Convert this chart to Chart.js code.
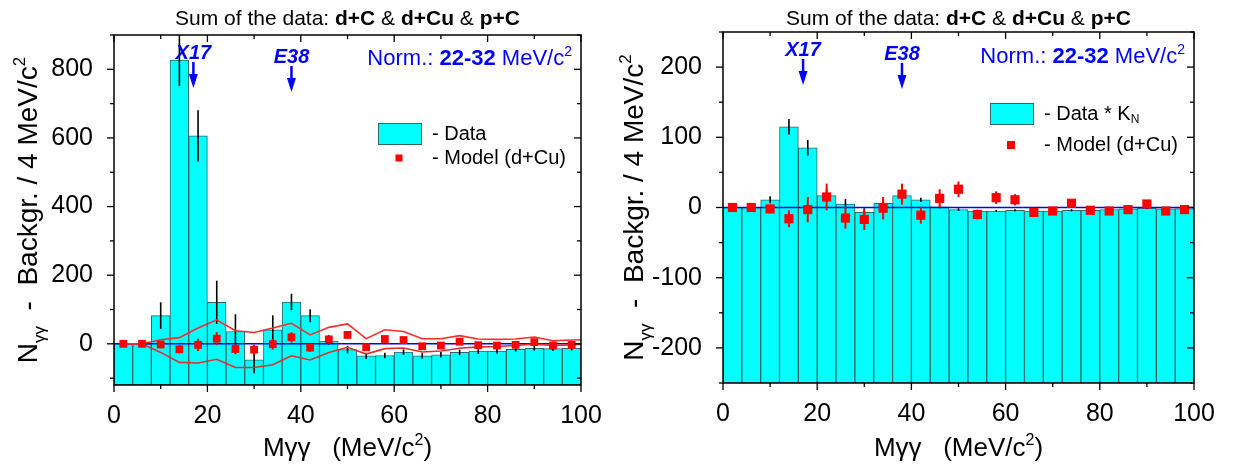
<!DOCTYPE html>
<html>
<head>
<meta charset="utf-8">
<script src="https://cdn.jsdelivr.net/npm/chart.js@4.4.0/dist/chart.umd.min.js"></script>
<style>
  html, body { margin: 0; padding: 0; background: #fff; }
  #wrap { position: relative; width: 1233px; height: 465px; }
  canvas { position: absolute; top: 0; }
  #left { left: 0; }
  #right { left: 610px; }
</style>
</head>
<body>
<div id="wrap">
  <canvas id="left" width="610" height="465"></canvas>
  <canvas id="right" width="623" height="465"></canvas>
</div>
<script>
// bin centres of the 4 MeV/c2 histogram
const binCenters = [2, 6, 10, 14, 18, 22, 26, 30, 34, 38, 42, 46, 50, 54, 58, 62, 66, 70, 74, 78, 82, 86, 90, 94, 98];

// left panel: data minus background
const dataLeft = [0, 0, 82, 827, 606, 121, 36, -47, 41, 122, 82, 8, -17, -35, -34, -24, -35, -32, -25, -21, -21, -16, -13, -14, -13];
const errLeft = [0, 0, 39, 75, 75, 63, 50, 39, 42, 24, 19, 10, 11, 9, 8, 8, 8, 8, 8, 8, 7, 7, 7, 6, 6];

// right panel: data * K_N
const dataRight = [0, 0, 11, 115, 85, 17, 5, -7, 6, 17, 11, 1, -3, -5, -5, -4, -5, -5, -4, -4, -3, -2, -1, -2, -1.5];
const errRight = [0, 0, 5, 11, 11, 9, 7, 6, 6, 4, 3, 2, 2, 1.5, 1.5, 1.5, 1.5, 1.5, 1.5, 1.5, 1.5, 1, 1, 1, 1];

// model (d+Cu), same points in both panels
const modelVals = [0, 0, -2, -16, -3, 15, -15, -17, -1, 19, -11, 13, 26, -10, 14, 11, -7, -5, 6, -4, -5, -3, 5, -5, -3];
const modelErr = [1, 1, 6, 12, 18, 19, 15, 15, 16, 15, 12, 13, 11, 7, 9, 8, 5, 5, 5, 4, 4, 4, 4, 4, 4];

// model band (left panel only)
const bandX = [2, 6, 10, 14, 18, 22, 26, 30, 34, 38, 42, 46, 50, 54, 58, 62, 66, 70, 74, 78, 82, 86, 90, 94, 98, 100];
const bandUpper = [0, 0, 12, 18, 46, 70, 38, 33, 46, 60, 26, 48, 58, 15, 41, 36, 15, 15, 24, 14, 13, 14, 20, 9, 11, 12];
const bandLower = [0, 0, -25, -54, -56, -45, -69, -69, -61, -35, -47, -25, -10, -30, -14, -12, -24, -21, -13, -9, -8, -5, -1, -5, -3, -2];

// zero line
const zeroLineX = [0, 100];
const zeroLineY = [0, 0];

// axes
const xTicks = [0, 20, 40, 60, 80, 100];
const yTicksLeft = [0, 200, 400, 600, 800];
const yTicksRight = [-200, -100, 0, 100, 200];

// marked masses
const markers = ['X17', 'E38'];
const markerMass = [17, 38];
const normRange = '22-32';

const FAM = "'Liberation Sans', Arial, sans-serif";

function xy(xs, ys) {
    return xs.map((x, i) => ({ x: x, y: ys[i] }));
}

// text made of pieces: [text, style]  B bold, I italic, v subscript, ^ superscript
function drawRich(ctx, segs, x, y, size, align, color) {
    const parts = segs.map(([t, st]) => {
        const small = st.includes('v') || st.includes('^');
        const px = small ? Math.round(size * 0.62) : size;
        const font = (st.includes('I') ? 'italic ' : '') + (st.includes('B') ? 'bold ' : '') + px + 'px ' + FAM;
        ctx.font = font;
        const dy = st.includes('v') ? size * 0.28 : (st.includes('^') ? -size * 0.42 : 0);
        return { t: t, font: font, dy: dy, w: ctx.measureText(t).width };
    });
    const total = parts.reduce((a, p) => a + p.w, 0);
    let cx = align === 'center' ? x - total / 2 : (align === 'right' ? x - total : x);
    ctx.fillStyle = color;
    ctx.textAlign = 'left';
    parts.forEach(p => {
        ctx.font = p.font;
        ctx.fillText(p.t, cx, y + p.dy);
        cx += p.w;
    });
}

function seg(ctx, x0, y0, x1, y1) {
    ctx.beginPath();
    ctx.moveTo(x0, y0);
    ctx.lineTo(x1, y1);
    ctx.stroke();
}

// vertical error bars for datasets that carry an `errors` array
const errorBars = {
    id: 'errorBars',
    afterDatasetDraw(chart, args) {
        const ds = chart.data.datasets[args.index];
        if (!ds.errors) return;
        const ctx = chart.ctx;
        const ys = chart.scales.y;
        const area = chart.chartArea;
        ctx.save();
        ctx.beginPath();
        ctx.rect(area.left, area.top, area.right - area.left, area.bottom - area.top);
        ctx.clip();
        ctx.strokeStyle = ds.errColor;
        ctx.lineWidth = ds.errWidth;
        args.meta.data.forEach((el, i) => {
            const e = ds.errors[i];
            if (!e) return;
            const v = ds.data[i].y;
            seg(ctx, el.x, ys.getPixelForValue(v + e), el.x, ys.getPixelForValue(v - e));
        });
        ctx.restore();
    }
};

// frame, ticks, titles, labels and legend
const decor = {
    id: 'decor',
    afterDraw(chart, args, o) {
        const ctx = chart.ctx;
        const { left, right, top, bottom } = chart.chartArea;
        const xs = chart.scales.x, ys = chart.scales.y;
        ctx.save();

        // ticks all round, outside on left/bottom, inside on top/right
        ctx.strokeStyle = '#000';
        ctx.lineWidth = 1.3;
        for (let v = xs.min; v <= xs.max; v += 10) {
            const px = xs.getPixelForValue(v);
            const len = v % 20 === 0 ? 7 : 4;
            seg(ctx, px, bottom, px, bottom + len);
            seg(ctx, px, top, px, top + len);
        }
        for (let v = Math.ceil(ys.min / o.yMinor) * o.yMinor; v <= ys.max; v += o.yMinor) {
            const py = ys.getPixelForValue(v);
            const len = v % (2 * o.yMinor) === 0 ? 7 : 4;
            seg(ctx, left - len, py, left, py);
            seg(ctx, right - len, py, right, py);
        }
        ctx.lineWidth = 1.5;
        ctx.strokeRect(left, top, right - left, bottom - top);

        const cxm = (left + right) / 2;
        ctx.textBaseline = 'alphabetic';

        // title
        drawRich(ctx, [['Sum of the data: ', ''], ['d+C', 'B'], [' & ', ''], ['d+Cu', 'B'], [' & ', ''], ['p+C', 'B']],
            cxm, 25, 21, 'center', '#000');

        // normalisation
        drawRich(ctx, [['Norm.: ', ''], [normRange, 'B'], [' MeV/c', ''], ['2', '^']],
            right - 9, top + o.normDy, 22, 'right', '#0000ff');

        // markers with arrows
        markers.forEach((m, i) => {
            const px = xs.getPixelForValue(markerMass[i]);
            const d = i * 4;
            drawRich(ctx, [[m, 'BI']], px, top + 24 + d, 20, 'center', '#0000ff');
            ctx.strokeStyle = '#0000ff';
            ctx.fillStyle = '#0000ff';
            ctx.lineWidth = 2.5;
            const y0 = top + 27 + d, y1 = top + 53 + d;
            seg(ctx, px, y0, px, y1 - 12);
            ctx.beginPath();
            ctx.moveTo(px - 4.5, y1 - 14);
            ctx.lineTo(px + 4.5, y1 - 14);
            ctx.lineTo(px, y1);
            ctx.closePath();
            ctx.fill();
        });

        // legend
        const lg = o.legend;
        ctx.fillStyle = '#00ffff';
        ctx.fillRect(lg.x, lg.y, 43, 21);
        ctx.strokeStyle = '#356767';
        ctx.lineWidth = 1;
        ctx.strokeRect(lg.x + 0.5, lg.y + 0.5, 43, 21);
        ctx.textBaseline = 'middle';
        drawRich(ctx, lg.dataText, lg.x + 54, lg.y + 11, 20, 'left', '#000');
        ctx.fillStyle = '#ff0000';
        ctx.fillRect(lg.x + 21 - lg.sq / 2, lg.y + lg.modelDy - lg.sq / 2, lg.sq, lg.sq);
        drawRich(ctx, [['- Model (d+Cu)', '']], lg.x + 54, lg.y + lg.modelDy, 20, 'left', '#000');

        // axis titles
        ctx.textBaseline = 'alphabetic';
        drawRich(ctx, [['M\u03b3\u03b3   (MeV/c', ''], ['2', '^'], [')', '']], cxm, 456, 26, 'center', '#000');
        ctx.translate(o.yTitleX, (top + bottom) / 2);
        ctx.rotate(-Math.PI / 2);
        drawRich(ctx, [['N', ''], ['\u03b3\u03b3', 'v'], ['  -  Backgr. / 4 MeV/c', ''], ['2', '^']], 0, 0, 28, 'center', '#000');
        ctx.restore();
    }
};

function buildPanel(id, p) {
    const datasets = [
        {
            type: 'bar', label: p.barLabel, data: xy(binCenters, p.data), base: p.yMin,
            errors: p.err, errColor: '#000', errWidth: 1.6,
            backgroundColor: '#00ffff', borderColor: '#356767', borderWidth: 1, borderSkipped: false,
            barPercentage: 1, categoryPercentage: 1, order: 10
        },
        {
            type: 'line', label: 'zero', data: xy(zeroLineX, zeroLineY),
            borderColor: '#0000ff', borderWidth: 1.5, pointRadius: 0, order: 6
        }
    ];
    if (p.band) {
        datasets.push({
            type: 'line', label: 'band+', data: xy(bandX, bandUpper),
            borderColor: '#ff2a2a', borderWidth: 1.6, pointRadius: 0, tension: 0, order: 4
        });
        datasets.push({
            type: 'line', label: 'band-', data: xy(bandX, bandLower),
            borderColor: '#e03030', borderWidth: 1.6, pointRadius: 0, tension: 0, order: 4
        });
    }
    datasets.push({
        type: 'line', label: 'Model (d+Cu)', data: xy(binCenters, modelVals), showLine: false,
        errors: modelErr, errColor: '#ff0000', errWidth: 2,
        pointStyle: 'rect', pointRadius: p.pointR, backgroundColor: '#ff0000', borderWidth: 0, order: 1
    });

    return new Chart(document.getElementById(id), {
        type: 'bar',
        data: { datasets: datasets },
        plugins: [errorBars, decor],
        options: {
            responsive: false,
            animation: false,
            devicePixelRatio: 1,
            layout: { padding: { left: 0, right: p.padRight, top: p.padTop, bottom: 0 } },
            plugins: {
                legend: { display: false },
                tooltip: { enabled: false },
                decor: { yMinor: p.yMinor, normDy: p.normDy, yTitleX: p.yTitleX, legend: p.legend }
            },
            scales: {
                x: {
                    type: 'linear', min: 0, max: 100, offset: false,
                    grid: { display: false }, border: { display: false },
                    afterBuildTicks: s => { s.ticks = xTicks.map(v => ({ value: v })); },
                    afterFit: s => { s.height = p.xAxisH; },
                    ticks: { font: { family: FAM, size: 25 }, color: '#000', padding: 8, maxRotation: 0, autoSkip: false }
                },
                y: {
                    min: p.yMin, max: p.yMax,
                    grid: { display: false }, border: { display: false },
                    afterBuildTicks: s => { s.ticks = p.yTicks.map(v => ({ value: v })); },
                    afterFit: s => { s.width = p.yAxisW; },
                    ticks: { font: { family: FAM, size: 25 }, color: '#000', padding: 13 }
                }
            }
        }
    });
}

buildPanel('left', {
    barLabel: 'Data', data: dataLeft, err: errLeft, band: true,
    yMin: -120, yMax: 900, yTicks: yTicksLeft, yMinor: 100,
    padTop: 35, padRight: 29, yAxisW: 114, xAxisH: 80, pointR: 5.5,
    normDy: 30, yTitleX: 37,
    legend: { x: 378, y: 123, sq: 7, modelDy: 35, dataText: [['- Data', '']] }
});

buildPanel('right', {
    barLabel: 'Data * K_N', data: dataRight, err: errRight, band: false,
    yMin: -250, yMax: 250, yTicks: yTicksRight, yMinor: 50,
    padTop: 32, padRight: 39, yAxisW: 113, xAxisH: 82, pointR: 6.5,
    normDy: 31, yTitleX: 33,
    legend: { x: 380, y: 103, sq: 8, modelDy: 42, dataText: [['- Data * K', ''], ['N', 'v']] }
});
</script>
</body>
</html>
